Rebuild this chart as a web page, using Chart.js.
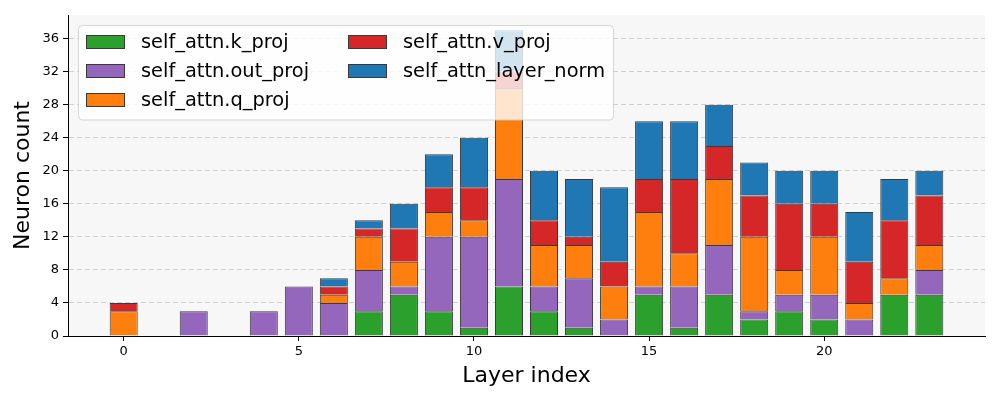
<!DOCTYPE html>
<html>
<head>
<meta charset="utf-8">
<script src="https://cdn.jsdelivr.net/npm/chart.js@4/dist/chart.umd.min.js"></script>
<style>
  html, body { margin: 0; padding: 0; background: #fff; }
</style>
</head>
<body>
<canvas id="myChart" width="1000" height="400"></canvas>
<script>
"use strict";

// Data (neuron count per layer, stacked bottom to top)

const layers = [0, 1, 2, 3, 4, 5, 6, 7, 8, 9, 10, 11, 12, 13, 14, 15, 16, 17, 18, 19, 20, 21, 22, 23];
const kProj = [0, 0, 0, 0, 0, 0, 0, 3, 5, 3, 1, 6, 3, 1, 0, 5, 1, 5, 2, 3, 2, 0, 5, 5];
const outProj = [0, 0, 3, 0, 3, 6, 4, 5, 1, 9, 11, 13, 3, 6, 2, 1, 5, 6, 1, 2, 3, 2, 0, 3];
const qProj = [3, 0, 0, 0, 0, 0, 1, 4, 3, 3, 2, 11, 5, 4, 4, 9, 4, 8, 9, 3, 7, 2, 2, 3];
const vProj = [1, 0, 0, 0, 0, 0, 1, 1, 4, 3, 4, 2, 3, 1, 3, 4, 9, 4, 5, 8, 4, 5, 7, 6];
const layerNorm = [0, 0, 0, 0, 0, 0, 1, 1, 3, 4, 6, 5, 6, 7, 9, 7, 7, 5, 4, 4, 4, 6, 5, 3];

const seriesNames = [
  "self_attn.k_proj",
  "self_attn.out_proj",
  "self_attn.q_proj",
  "self_attn.v_proj",
  "self_attn_layer_norm",
];
const seriesColors = ["#2ca02c", "#9467bd", "#ff7f0e", "#d62728", "#1f77b4"];
const xTicks = [0, 5, 10, 15, 20];
const yTicks = [0, 4, 8, 12, 16, 20, 24, 28, 32, 36];

const edgeColor = "#3a3a3a";
const fontFamily = "'DejaVu Sans', sans-serif";

const toPoints = (vals) =>
  layers.map((x, i) => ({ x: x, y: vals[i] === 0 ? null : vals[i] }));

const datasets = [kProj, outProj, qProj, vProj, layerNorm].map((vals, i) => ({
  label: seriesNames[i],
  data: toPoints(vals),
  backgroundColor: seriesColors[i],
  borderColor: edgeColor,
  borderWidth: { top: 1, left: 1, right: 1, bottom: 0 },
  borderSkipped: false,
  barPercentage: 0.8,
  categoryPercentage: 1.0,
}));

// light grey plot area

const plotBackground = {
  id: "plotBackground",
  beforeDraw(chart) {
    const { ctx, chartArea: a } = chart;
    ctx.save();
    ctx.fillStyle = "#f7f7f7";
    ctx.fillRect(a.left, a.top, a.right - a.left, a.bottom - a.top);
    ctx.restore();
  },
};

// two column legend in upper left, drawn over the bars

const boxLegend = {
  id: "boxLegend",
  afterDraw(chart) {
    const { ctx, chartArea: a } = chart;
    const x0 = a.left + 10.5;
    const y0 = a.top + 10.5;
    ctx.save();
    ctx.beginPath();
    ctx.roundRect(x0, y0, 535, 94.5, 4);
    ctx.fillStyle = "rgba(255, 255, 255, 0.8)";
    ctx.fill();
    ctx.strokeStyle = "rgba(204, 204, 204, 0.8)";
    ctx.lineWidth = 1;
    ctx.stroke();
    ctx.font = "19.4px " + fontFamily;
    ctx.textBaseline = "middle";
    ctx.textAlign = "left";
    chart.data.datasets.forEach((ds, i) => {
      const col = Math.floor(i / 3);
      const row = i % 3;
      const hx = Math.round(x0 + 7 + col * 262);
      const hy = Math.round(y0 + 9 + row * 29.3);
      ctx.fillStyle = ds.backgroundColor;
      ctx.fillRect(hx, hy, 39, 14);
      ctx.strokeStyle = edgeColor;
      ctx.strokeRect(hx + 0.5, hy + 0.5, 38, 13);
      ctx.fillStyle = "#000";
      ctx.fillText(ds.label, hx + 55, hy + 7.5);
    });
    ctx.restore();
  },
};

const ctx = document.getElementById("myChart").getContext("2d");
const myChart = new Chart(ctx, {
  type: "bar",
  data: { datasets: datasets },
  plugins: [plotBackground, boxLegend],
  options: {
    responsive: false,
    animation: false,
    devicePixelRatio: 1,
    layout: { padding: { top: 15, right: 15, left: 0, bottom: 0 } },
    plugins: {
      legend: { display: false },
      tooltip: { enabled: false },
    },
    scales: {
      x: {
        type: "linear",
        stacked: true,
        offset: false,
        min: -1.59,
        max: 24.59,
        afterBuildTicks: (scale) => {
          scale.ticks = xTicks.map((v) => ({ value: v }));
        },
        afterFit: (scale) => {
          scale.height = 64;
        },
        grid: {
          offset: false,
          drawOnChartArea: false,
          drawTicks: true,
          tickLength: 5,
          tickColor: "#000",
          tickWidth: 1,
        },
        border: { color: "#000", width: 1 },
        ticks: {
          color: "#000",
          padding: 3,
          maxRotation: 0,
          font: { family: fontFamily, size: 13 },
        },
        title: {
          display: true,
          text: "Layer index",
          color: "#000",
          padding: { top: 0, bottom: 11 },
          font: { family: fontFamily, size: 22 },
        },
      },
      y: {
        stacked: true,
        min: 0,
        max: 38.85,
        afterBuildTicks: (scale) => {
          scale.ticks = yTicks.map((v) => ({ value: v }));
        },
        afterFit: (scale) => {
          scale.width = 68;
        },
        grid: {
          color: "#d0d0d0",
          lineWidth: 1,
          drawTicks: true,
          tickLength: 5,
          tickColor: "#000",
          tickWidth: 1,
          tickBorderDash: [],
        },
        border: { color: "#000", width: 1, dash: [5, 3] },
        ticks: {
          color: "#000",
          padding: 4,
          font: { family: fontFamily, size: 13 },
        },
        title: {
          display: true,
          text: "Neuron count",
          color: "#000",
          padding: { top: 10, bottom: 0 },
          font: { family: fontFamily, size: 22 },
        },
      },
    },
  },
});
</script>
</body>
</html>
